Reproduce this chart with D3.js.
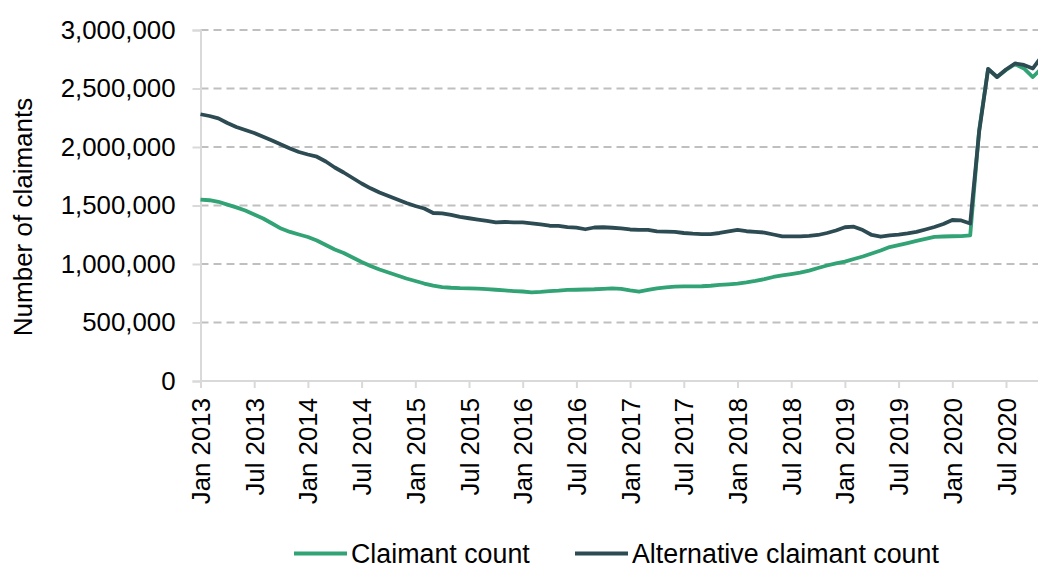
<!DOCTYPE html>
<html>
<head>
<meta charset="utf-8">
<script src="https://cdn.jsdelivr.net/npm/d3@7"></script>
<style>
body { margin: 0; background: #fff; }
text { font-family: "Liberation Sans", Arial, sans-serif; fill: #000; }
</style>
</head>
<body>
<div class="content"></div>
<script>

var size = {width: 1038, height: 568};
var padding = {left: 200.5, top: 30, bottom: 187};
var monthStep = 8.95;

// Monthly series, Jan 2013 onwards
var startMonth = new Date(2013, 0, 1);
var claimantCount = [
    1551000, 1545000, 1532000, 1508000, 1484000, 1457000, 1423000, 1389000, 1346000, 1303000, 1274000, 1252000,
    1231000, 1201000, 1162000, 1124000, 1094000, 1056000, 1017000, 983000, 953000, 927000, 902000, 876000,
    855000, 833000, 815000, 803000, 797000, 793000, 791000, 789000, 785000, 780000, 774000, 769000,
    765000, 758000, 762000, 769000, 772000, 778000, 780000, 782000, 784000, 788000, 792000, 788000,
    774000, 763000, 778000, 792000, 801000, 806000, 808000, 809000, 810000, 814000, 821000, 826000,
    832000, 842000, 855000, 870000, 889000, 902000, 914000, 927000, 944000, 966000, 987000, 1006000,
    1020000, 1043000, 1064000, 1090000, 1115000, 1145000, 1162000, 1179000, 1197000, 1214000, 1231000, 1235000,
    1237000, 1239000, 1244000, 2145000, 2667000, 2598000, 2658000, 2709000, 2671000, 2598000, 2675000
];
var altClaimantCount = [
    2280000, 2265000, 2245000, 2205000, 2171000, 2145000, 2120000, 2088000, 2056000, 2021000, 1987000, 1957000,
    1936000, 1917000, 1876000, 1825000, 1782000, 1735000, 1688000, 1647000, 1611000, 1581000, 1551000, 1521000,
    1496000, 1474000, 1436000, 1433000, 1419000, 1402000, 1391000, 1380000, 1368000, 1355000, 1359000, 1356000,
    1355000, 1348000, 1338000, 1327000, 1325000, 1316000, 1310000, 1297000, 1312000, 1314000, 1310000, 1305000,
    1295000, 1291000, 1291000, 1278000, 1276000, 1274000, 1265000, 1259000, 1256000, 1256000, 1265000, 1278000,
    1291000, 1280000, 1274000, 1269000, 1252000, 1236000, 1236000, 1236000, 1240000, 1248000, 1265000, 1286000,
    1314000, 1319000, 1290000, 1248000, 1233000, 1244000, 1252000, 1262000, 1274000, 1295000, 1316000, 1342000,
    1376000, 1372000, 1346000, 2130000, 2667000, 2598000, 2662000, 2714000, 2701000, 2671000, 2775000
];
var yTicks = [0, 500000, 1000000, 1500000, 2000000, 2500000, 3000000];
var xTickEvery = 6;
var seriesNames = ["Claimant count", "Alternative claimant count"];
var seriesColors = ["#31a374", "#2d4b53"];

var months = claimantCount.map(function(d, i) { return d3.timeMonth.offset(startMonth, i); });

var chart = d3.select('.content')
    .append('svg')
    .attr('width', size.width)
    .attr('height', size.height);

var xScale = d3.scaleLinear()
    .domain([0, months.length - 1])
    .range([padding.left, padding.left + monthStep * (months.length - 1)]);
var yScale = d3.scaleLinear()
    .domain([0, 3000000])
    .range([size.height - padding.bottom, padding.top]);

// Dashed gridlines
chart.append('g')
    .selectAll('line')
    .data(yTicks.slice(1))
    .enter().append('line')
    .attr('x1', padding.left)
    .attr('x2', size.width)
    .attr('y1', function(d) { return yScale(d); })
    .attr('y2', function(d) { return yScale(d); })
    .attr('stroke', '#bfbfbf')
    .attr('stroke-width', 2)
    .attr('stroke-dasharray', '8,5');

// y axis
var yAxis = d3.axisLeft(yScale)
    .tickValues(yTicks)
    .tickSize(8)
    .tickPadding(17)
    .tickFormat(d3.format(','));
var yAxisObj = chart.append('g')
    .attr('transform', 'translate(' + padding.left + ',0)')
    .call(yAxis);
yAxisObj.select('.domain').attr('stroke', '#d9d9d9').attr('stroke-width', 2);
yAxisObj.selectAll('.tick line').attr('stroke', '#d9d9d9').attr('stroke-width', 2);
yAxisObj.selectAll('.tick text').style('font-size', '25.8px');

// x axis
var xAxis = d3.axisBottom(xScale)
    .tickValues(d3.range(0, months.length, xTickEvery))
    .tickSize(7)
    .tickSizeOuter(0)
    .tickFormat(function(i) { return d3.timeFormat('%b %Y')(months[i]); });
var xAxisObj = chart.append('g')
    .attr('transform', 'translate(0,' + yScale(0) + ')')
    .call(xAxis);
xAxisObj.select('.domain')
    .attr('d', 'M' + padding.left + ',0H' + size.width)
    .attr('stroke', '#d9d9d9').attr('stroke-width', 2);
xAxisObj.selectAll('.tick line').attr('stroke', '#d9d9d9').attr('stroke-width', 2);
xAxisObj.selectAll('.tick text')
    .style('font-size', '25.8px')
    .attr('text-anchor', 'end')
    .attr('transform', 'rotate(-90)')
    .attr('x', -17)
    .attr('y', 0)
    .attr('dy', '0.35em');

// y axis title
chart.append('text')
    .attr('transform', 'translate(32,217) rotate(-90)')
    .attr('text-anchor', 'middle')
    .style('font-size', '26px')
    .text('Number of claimants');

// Series lines
var line = d3.line()
    .x(function(d, i) { return xScale(i); })
    .y(function(d) { return yScale(d); });

chart.append('g')
    .selectAll('path')
    .data([claimantCount, altClaimantCount])
    .enter().append('path')
    .attr('d', line)
    .attr('fill', 'none')
    .attr('stroke', function(d, i) { return seriesColors[i]; })
    .attr('stroke-width', 3.8)
    .attr('stroke-linejoin', 'round');

// Legend
var legendX = [294, 575];
var legend = chart.append('g')
    .selectAll('g')
    .data(seriesNames)
    .enter().append('g')
    .attr('transform', function(d, i) { return 'translate(' + legendX[i] + ',553.5)'; });
legend.append('line')
    .attr('x1', 0).attr('x2', 53)
    .attr('stroke', function(d, i) { return seriesColors[i]; })
    .attr('stroke-width', 4);
legend.append('text')
    .attr('x', 57)
    .attr('dy', '0.35em')
    .style('font-size', '26.8px')
    .text(function(d) { return d; });

</script>
</body>
</html>
